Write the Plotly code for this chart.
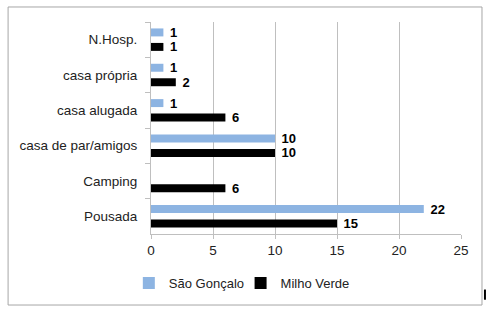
import plotly.graph_objects as go

categories = ["N.Hosp.", "casa própria", "casa alugada", "casa de par/amigos", "Camping", "Pousada"]
sao_goncalo = [1, 1, 1, 10, None, 22]
milho_verde = [1, 2, 6, 10, 6, 15]
x_ticks = [0, 5, 10, 15, 20, 25]

FONT = "Liberation Sans, Arial, sans-serif"

fig = go.Figure()
fig.add_trace(go.Bar(
    name="São Gonçalo", y=categories, x=sao_goncalo, orientation="h",
    marker=dict(color="#8DB4E2", line=dict(width=0)), legend="legend",
    texttemplate=" %{x}", textposition="outside", cliponaxis=False, constraintext="none",
    textfont=dict(family=FONT, size=13, color="#000000", weight="bold"),
))
fig.add_trace(go.Bar(
    name="Milho Verde", y=categories, x=milho_verde, orientation="h",
    marker=dict(color="#000000", line=dict(width=0)), legend="legend2",
    texttemplate=" %{x}", textposition="outside", cliponaxis=False, constraintext="none",
    textfont=dict(family=FONT, size=13, color="#000000", weight="bold"),
))

legend_common = dict(orientation="h", xref="container", yref="container", xanchor="left",
                     y=0.087, yanchor="middle", font=dict(size=13, color="#222222"),
                     itemwidth=30, bgcolor="rgba(0,0,0,0)")

fig.update_layout(
    width=488, height=310,
    margin=dict(l=151, r=27, t=22, b=76, autoexpand=False),
    paper_bgcolor="white", plot_bgcolor="white",
    barmode="group", bargap=0.18, bargroupgap=0.45,
    font=dict(family=FONT, size=13, color="#222222"),
    showlegend=True,
    legend=dict(x=0.264, **legend_common),
    legend2=dict(x=0.493, **legend_common),
    xaxis=dict(range=[0, 25], tickvals=x_ticks, showgrid=True, gridcolor="#BFBFBF",
               gridwidth=1, zeroline=False, showline=True, linecolor="#BFBFBF",
               ticks="outside", ticklen=4, tickcolor="#BFBFBF", fixedrange=True,
               automargin=False, tickfont=dict(size=13.5, color="#222222")),
    yaxis=dict(autorange="reversed", type="category", showline=True, linecolor="#BFBFBF",
               ticks="outside", tickson="boundaries", ticklen=5, tickcolor="#BFBFBF",
               showgrid=False, ticklabelstandoff=10, automargin=False, fixedrange=True,
               tickfont=dict(size=13.5, color="#222222")),
    shapes=[
        dict(type="rect", xref="paper", yref="paper",
             x0=-0.461, x1=1.0677, y0=-0.335, y1=1.0708,
             line=dict(color="#A6A6A6", width=1), fillcolor="rgba(0,0,0,0)"),
        dict(type="line", xref="paper", yref="paper",
             x0=1.0773, x1=1.0773, y0=-0.262, y1=-0.31,
             line=dict(color="#000000", width=2)),
    ],
)

fig.write_html("out.html", config={"displayModeBar": False},
               post_script="document.body.style.margin='0px';")
